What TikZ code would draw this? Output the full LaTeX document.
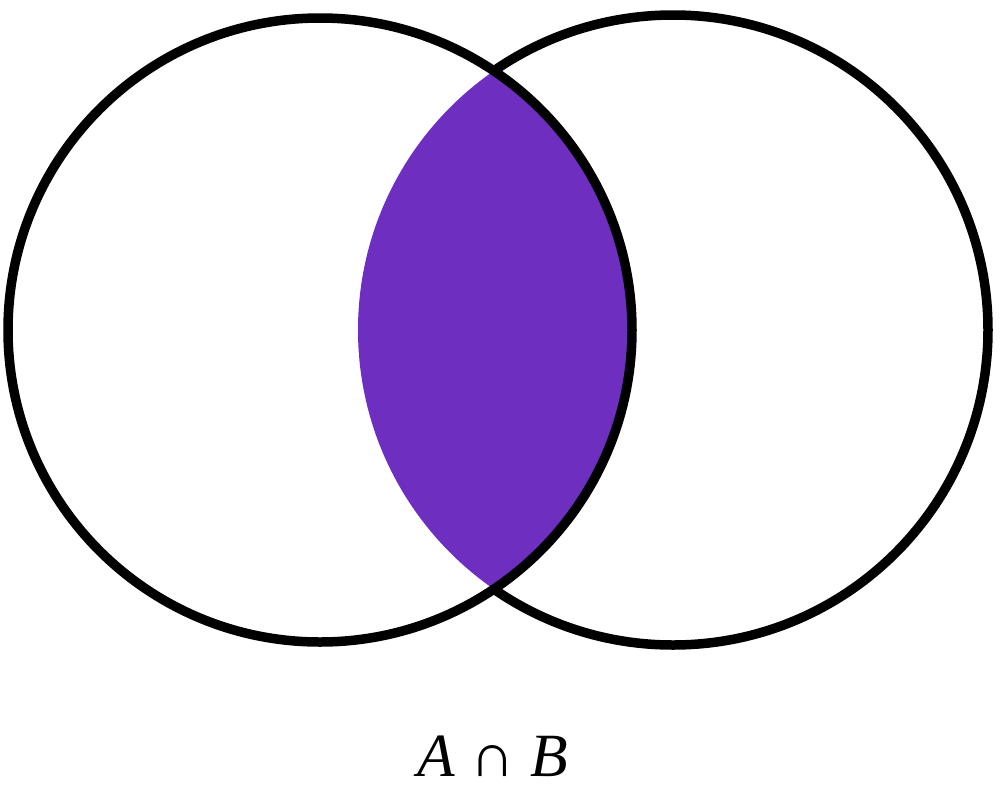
\documentclass[tikz,border=0pt]{standalone}
\usepackage{fontspec}
\setmainfont{Liberation Serif}
\definecolor{lens}{RGB}{110,47,192}
\tikzset{ring/.style={line width=0.19cm}}

\begin{document}
\begin{tikzpicture}[x=0.02cm,y=-0.02cm]
\useasboundingbox (0,0) rectangle (1005,802);
% set B first, its inner arc is hidden by A
\draw[ring] (673,330) coordinate (cB) circle (315);
\fill[white] (320,330) coordinate (cA) circle (312);
\begin{scope}
\clip (cA) circle (312);
\fill[lens] (cB) circle (315);
\end{scope}
\draw[ring] (cA) circle (312);
\node (lbl) at (493,756) {\fontsize{35}{40}\selectfont\textit{A} ∩ \textit{B}};
\end{tikzpicture}
\end{document}
